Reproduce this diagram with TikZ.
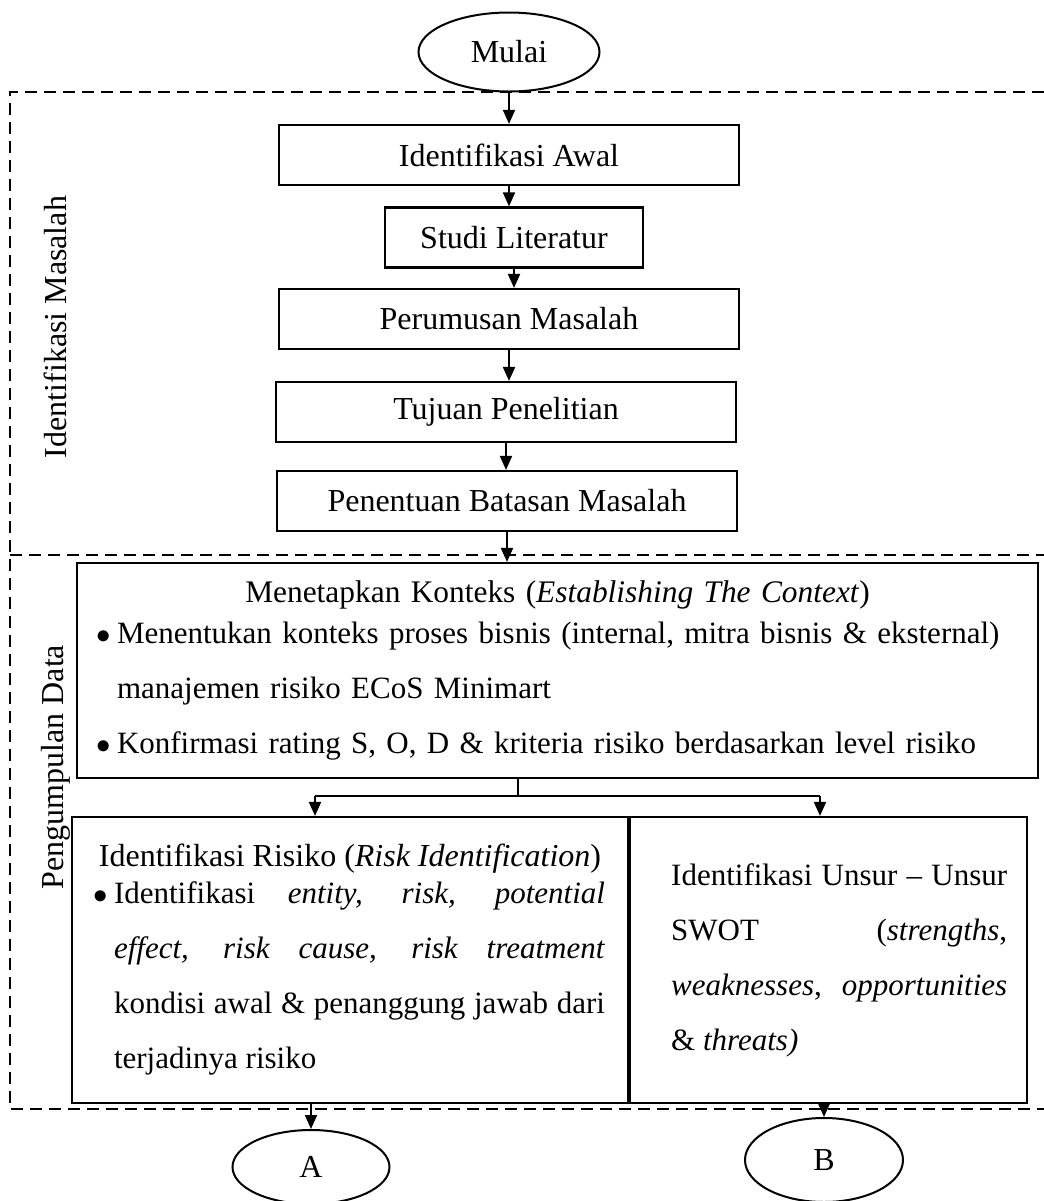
\documentclass[tikz,border=0pt]{standalone}
\usepackage{fontspec}
\setmainfont{Liberation Serif}
\usetikzlibrary{arrows.meta, shapes.geometric}

% bullet with hanging indent
\newcommand{\butir}{\par\noindent\hangindent=7pt\hangafter=1\makebox[7pt][l]{\hspace{-3.3pt}$\bullet$}}

\tikzset{
    kotak/.style={draw, line width=1.1pt, inner ysep=0pt, font=\fontsize{15.5pt}{27.5pt}\selectfont},
    langkah/.style={kotak, minimum height=30pt, font=\fontsize{16pt}{18pt}\selectfont},
    terminal/.style={draw, ellipse, line width=1pt, inner sep=0pt, font=\fontsize{16pt}{18pt}\selectfont},
    batas/.style={line width=1.3pt, dash pattern=on 6pt off 3.5pt},
    sisi/.style={rotate=90, font=\fontsize{16pt}{18pt}\selectfont}
}

\begin{document}
\begin{tikzpicture}[x=0.5pt, y=-0.5pt, line width=1pt, >={Triangle[length=7pt, width=6pt]}]
    % coordinates are pixels of the page, y=-0.5pt puts the origin top-left
    \useasboundingbox (0,0) rectangle (1044,1201);

    % --- Dashed phase borders ---
    \draw[batas] (1044,92) -- (10,92) -- (10,1109) -- (1044,1109); % outer
    \draw[batas] (10,555) -- (1044,555); % phase split

    % --- Phase labels ---
    \node[sisi] (lblmasalah) at (55,327) {Identifikasi Masalah};
    \node[sisi] (lbldata) at (56,767) {Pengumpulan Data};

    % --- Start ---
    \node[terminal, minimum width=90.5pt, minimum height=39.5pt] (mulai) at (509,52) {Mulai};

    % --- Identifikasi Masalah boxes ---
    \node[langkah, minimum width=230pt] (awal) at (509,155) {Identifikasi Awal};
    \node[langkah, minimum width=129pt] (studi) at (514,237.5) {Studi Literatur};
    \node[langkah, minimum width=230pt] (rumusan) at (509,319) {Perumusan Masalah};
    \node[langkah, minimum width=230pt] (tujuan) at (506,412) {Tujuan Penelitian};
    \node[langkah, minimum width=230pt] (batasan) at (507,501) {Penentuan Batasan Masalah};

    % --- Pengumpulan Data boxes ---
    \node[kotak, text width=460.5pt, inner xsep=10pt, minimum height=107.5pt, align=left] (konteks) at (557.5,670.5) {%
        \leftskip=3pt
        {\centering\fontsize{15.7pt}{27.5pt}\selectfont Menetapkan Konteks (\textit{Establishing The Context})\par}
        \vspace{-7pt}
        \butir Menentukan konteks proses bisnis (internal, mitra bisnis \& eksternal)\newline manajemen risiko ECoS Minimart
        \butir Konfirmasi rating S, O, D \& kriteria risiko berdasarkan level risiko\par};

    \node[kotak, text width=255pt, inner xsep=11.5pt, minimum height=143pt, align=justify] (risiko) at (350,960) {%
        {\centering\fontsize{16pt}{27.5pt}\selectfont Identifikasi Risiko (\textit{Risk Identification})\par}
        \vspace{-9pt}
        \leftskip=2.5pt
        \butir Identifikasi \textit{entity, risk, potential}\linebreak \textit{effect, risk cause, risk treatment}\linebreak kondisi awal \& penanggung jawab dari\linebreak terjadinya risiko\par};

    \node[kotak, text width=178.5pt, inner xsep=10pt, minimum height=143pt, align=justify, anchor=west] (swot) at (risiko.east) {%
        \leftskip=10.5pt
        Identifikasi Unsur -- Unsur\linebreak SWOT (\textit{strengths},\linebreak \textit{weaknesses}, \textit{opportunities}\linebreak \& \textit{threats)}\par};

    % --- End points ---
    \node[terminal, minimum width=78.5pt, minimum height=37pt] (hasilA) at (311,1167) {A};
    \node[terminal, minimum width=79pt, minimum height=42pt] (hasilB) at (824,1160) {B};

    % --- Connectors ---
    \draw[->] (mulai.south) -- (awal.north);
    \draw[->] (awal.south) -- (awal.south |- studi.north);
    \draw[->] (studi.south) -- (studi.south |- rumusan.north);
    \draw[->] (rumusan.south) -- (rumusan.south |- tujuan.north);
    \draw[->] (tujuan.south) -- (tujuan.south |- batasan.north);
    \draw[->] (batasan.south) -- (batasan.south |- konteks.north);

    % branch to risiko and swot
    \coordinate (cabang) at (518,796);
    \coordinate (kiri) at (315,796);
    \coordinate (kanan) at (820,796);
    \draw (konteks.south -| cabang) -- (cabang);
    \draw (kiri) -- (kanan);
    \draw[->] (kiri) -- (kiri |- risiko.north);
    \draw[->] (kanan) -- (kanan |- swot.north);

    \draw[->] (risiko.south -| hasilA) -- (hasilA.north);
    \draw[->] (swot.south -| hasilB) -- (hasilB.north);

\end{tikzpicture}
\end{document}
